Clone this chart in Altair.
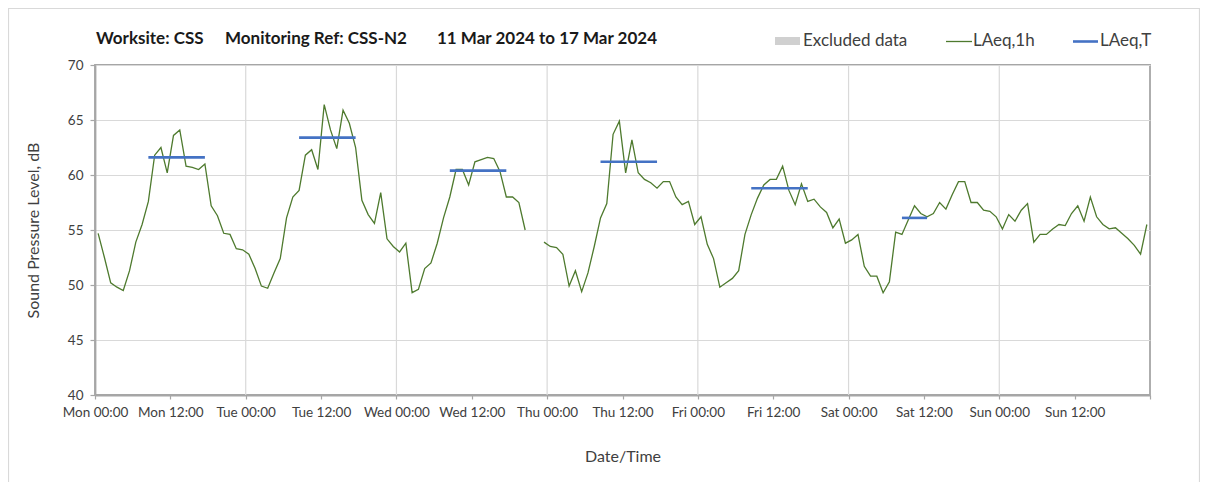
import altair as alt
import pandas as pd

# ---- data ----
hours = list(range(168))
laeq_1h = [
    54.7, 52.5, 50.2, 49.8, 49.5, 51.3, 53.9, 55.5, 57.6, 61.8, 62.5, 60.2,
    63.6, 64.1, 60.8, 60.7, 60.5, 61.0, 57.2, 56.3, 54.7, 54.6, 53.3, 53.2,
    52.8, 51.5, 49.9, 49.7, 51.1, 52.4, 56.1, 58.0, 58.6, 61.8, 62.3, 60.5,
    66.4, 64.1, 62.4, 65.9, 64.7, 62.5, 57.7, 56.4, 55.6, 58.4, 54.2, 53.5,
    53.0, 53.8, 49.3, 49.6, 51.5, 52.0, 53.8, 56.1, 58.0, 60.5, 60.5, 59.1,
    61.2, 61.4, 61.6, 61.5, 60.3, 58.0, 58.0, 57.5, 55.0, None, None, 53.9,
    53.5, 53.4, 52.8, 49.9, 51.3, 49.4, 51.1, 53.5, 56.1, 57.4, 63.7, 64.9,
    60.2, 63.2, 60.2, 59.6, 59.3, 58.8, 59.4, 59.4, 58.0, 57.3, 57.6, 55.5,
    56.2, 53.7, 52.4, 49.8, 50.2, 50.6, 51.3, 54.6, 56.4, 57.9, 59.1, 59.6,
    59.6, 60.8, 58.6, 57.3, 59.2, 57.6, 57.8, 57.1, 56.6, 55.2, 56.0, 53.8,
    54.1, 54.6, 51.7, 50.8, 50.8, 49.3, 50.3, 54.8, 54.6, 55.9, 57.2, 56.5,
    56.2, 56.5, 57.5, 56.9, 58.2, 59.4, 59.4, 57.5, 57.5, 56.8, 56.7, 56.2,
    55.1, 56.4, 55.8, 56.8, 57.4, 53.9, 54.6, 54.6, 55.1, 55.5, 55.4, 56.5,
    57.2, 55.8, 58.0, 56.2, 55.5, 55.1, 55.2, 54.7, 54.2, 53.6, 52.8, 55.5,
]
laeq_t_start = [8, 32, 56, 80, 104, 128]
laeq_t_end = [17, 41, 65, 89, 113, 132]
laeq_t_value = [61.6, 63.4, 60.4, 61.2, 58.8, 56.1]
day_names = ["Mon", "Tue", "Wed", "Thu", "Fri", "Sat", "Sun"]
tick_hours = list(range(0, 169, 12))
day_boundaries = list(range(24, 168, 24))
title_parts = ["Worksite: CSS", "Monitoring Ref: CSS-N2", "11 Mar 2024 to 17 Mar 2024"]
legend_labels = ["Excluded data", "LAeq,1h", "LAeq,T"]

# ---- tables ----
df_1h = pd.DataFrame({"t": [h + 0.5 for h in hours], "v": laeq_1h})
df_t = pd.DataFrame({
    "t0": [s + 0.5 for s in laeq_t_start],
    "t1": [e + 0.5 for e in laeq_t_end],
    "v": laeq_t_value,
})
df_days = pd.DataFrame({"t": day_boundaries})

FONT = "Lato"
GREEN = "#4E7A2E"
BLUE = "#4472C4"
TXT = "#404040"

label_expr = (
    "datum.value >= 168 ? '' : "
    "[" + ",".join("'" + d + "'" for d in day_names) + "][floor(datum.value/24)]"
    " + (datum.value % 24 == 0 ? ' 00:00' : ' 12:00')"
)

x_scale = alt.Scale(domain=[0, 168], nice=False, zero=False)
y_scale = alt.Scale(domain=[40, 70], nice=False, zero=False)

x_axis = alt.Axis(
    values=tick_hours, labelExpr=label_expr, grid=False, title="Date/Time",
    tickSize=4, labelPadding=6, titlePadding=30, labelFontSize=13.5,
    titleFontSize=16, labelOverlap=False, labelFlush=False,
    titleFontWeight="normal",
)
y_axis = alt.Axis(
    values=list(range(40, 71, 5)), title="Sound Pressure Level, dB",
    tickSize=5, labelPadding=7, titlePadding=26, labelFontSize=13.5,
    titleFontSize=16, gridColor="#d9d9d9", gridWidth=1.2,
    titleFontWeight="normal",
)

base_x = alt.X("t:Q", scale=x_scale, axis=x_axis)

day_rules = alt.Chart(df_days).mark_rule(color="#d9d9d9", strokeWidth=1.2).encode(
    x=alt.X("t:Q", scale=x_scale, axis=x_axis),
)

line_1h = alt.Chart(df_1h).mark_line(color=GREEN, strokeWidth=1.3).encode(
    x=base_x,
    y=alt.Y("v:Q", scale=y_scale, axis=y_axis),
)

line_t = alt.Chart(df_t).mark_rule(color=BLUE, strokeWidth=2.6).encode(
    x=alt.X("t0:Q", scale=x_scale, axis=x_axis),
    x2="t1:Q",
    y=alt.Y("v:Q", scale=y_scale, axis=y_axis),
)

one = pd.DataFrame({"k": [0]})

# outer chart border
border = alt.Chart(one).mark_rect(fill=None, stroke="#d9d9d9", strokeWidth=1.2).encode(
    x=alt.value(-86.5), x2=alt.value(1104.5), y=alt.value(-56.5), y2=alt.value(440)
)

title_x = [1, 130, 342]
title_layers = []
for txt, xp in zip(title_parts, title_x):
    title_layers.append(
        alt.Chart(pd.DataFrame({"s": [txt]})).mark_text(
            align="left", baseline="alphabetic", font=FONT, fontSize=17,
            fontWeight="bold", color="#1a1a1a",
        ).encode(x=alt.value(xp), y=alt.value(-21), text="s:N")
    )

# legend
leg_rect = alt.Chart(one).mark_rect(color="#d0d0d0").encode(
    x=alt.value(680), x2=alt.value(705), y=alt.value(-28), y2=alt.value(-20)
)
leg_green = alt.Chart(one).mark_rule(color=GREEN, strokeWidth=1.3).encode(
    x=alt.value(851), x2=alt.value(877), y=alt.value(-23.5)
)
leg_blue = alt.Chart(one).mark_rule(color=BLUE, strokeWidth=2.6).encode(
    x=alt.value(978), x2=alt.value(1003), y=alt.value(-23.5)
)
leg_text_layers = []
for txt, xp in zip(legend_labels, [708, 878, 1005]):
    leg_text_layers.append(
        alt.Chart(pd.DataFrame({"s": [txt]})).mark_text(
            align="left", baseline="middle", font=FONT, fontSize=17, color=TXT,
        ).encode(x=alt.value(xp), y=alt.value(-24), text="s:N")
    )

chart = alt.layer(
    border, day_rules, line_1h, line_t, *title_layers,
    leg_rect, leg_green, leg_blue, *leg_text_layers,
).properties(
    width=1055, height=330,
    autosize=alt.AutoSizeParams(type="none"),
    padding={"left": 87, "top": 57, "right": 50, "bottom": 87},
    background="white",
).configure_view(
    stroke="#a6a6a6", strokeWidth=1.8,
).configure_axis(
    labelFont=FONT, titleFont=FONT, labelColor=TXT, titleColor=TXT,
    titleFontWeight="normal", domainColor="#a6a6a6", domainWidth=1.8,
    tickColor="#a6a6a6", tickWidth=1.2,
)

chart.save("out.html", embed_options={"renderer": "svg", "actions": False})
